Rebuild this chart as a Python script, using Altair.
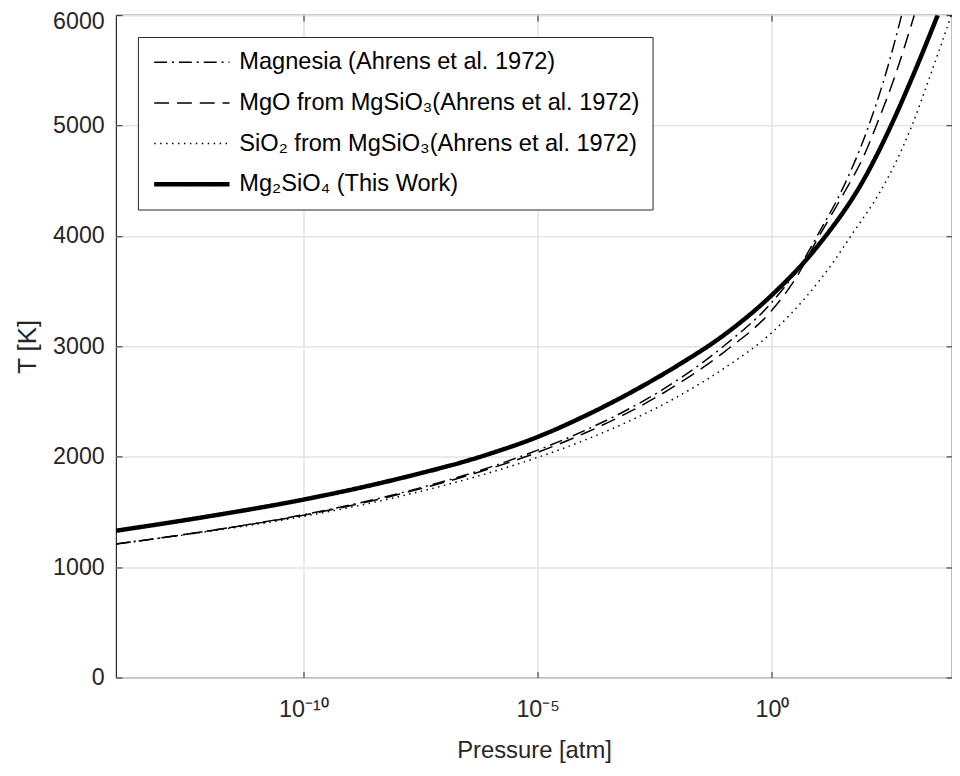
import altair as alt
import pandas as pd

# ---- data (log10 pressure [atm], temperature [K]) ----
series_names = [
    "Magnesia (Ahrens et al. 1972)",
    "MgO from MgSiO₃(Ahrens et al. 1972)",
    "SiO₂ from MgSiO₃(Ahrens et al. 1972)",
    "Mg₂SiO₄ (This Work)",
]

magnesia_logp = [-14, -12, -10, -8, -6, -5, -4, -3, -2, -1, 0, 0.62, 1, 1.5, 2, 2.5, 2.77]
magnesia_t = [1210, 1330, 1475, 1664, 1908, 2060, 2237, 2445, 2699, 3012, 3400, 3743, 4025, 4420, 4920, 5570, 6000]

mgo_logp = [-14, -12, -10, -8, -6, -5, -4, -3, -2, -1, 0, 0.5, 1.01, 1.5, 2.0, 2.23, 2.64, 3.04]
mgo_t = [1210, 1330, 1470, 1655, 1895, 2040, 2213, 2415, 2660, 2955, 3327, 3610, 4000, 4360, 4760, 5000, 5464, 6000]

sio2_logp = [-14, -12, -10, -8, -6, -5, -4, -3, -2, -1, 0, 0.72, 1.29, 1.71, 2.31, 2.66, 2.99, 3.37, 3.83]
sio2_t = [1210, 1325, 1460, 1635, 1859, 1994, 2150, 2332, 2547, 2807, 3125, 3443, 3750, 4015, 4400, 4680, 5000, 5440, 6000]

mg2sio4_logp = [-14, -12, -10, -8, -6, -5, -4, -3, -2, -1, 0, 1, 2, 2.5, 3, 3.54]
mg2sio4_t = [1330, 1462, 1612, 1798, 2030, 2180, 2368, 2585, 2830, 3110, 3465, 3920, 4540, 4960, 5440, 6000]

x_tick_values = [1e-10, 1e-5, 1]
x_tick_labels = ["10⁻¹⁰", "10⁻⁵", "10⁰"]
y_tick_values = [0, 1000, 2000, 3000, 4000, 5000, 6000]

line_dashes = [[13, 5, 2, 5], [15, 8], [1.5, 4.5], [1, 0]]
line_widths = [1.5, 1.5, 1.5, 4.5]

series_data = [
    (series_names[0], magnesia_logp, magnesia_t),
    (series_names[1], mgo_logp, mgo_t),
    (series_names[2], sio2_logp, sio2_t),
    (series_names[3], mg2sio4_logp, mg2sio4_t),
]
rows = []
for k, (name, lps, ts) in enumerate(series_data):
    for i, (lp, t) in enumerate(zip(lps, ts)):
        rows.append({"series": name, "P": 10.0 ** lp, "T": t, "order": i, "lw": line_widths[k]})
df = pd.DataFrame(rows)

FONT = "Liberation Sans"
AX = "#262626"

label_expr = " : ".join(
    [f"datum.value < {v * 3.1} ? '{lab}'" for v, lab in zip(x_tick_values[:-1], x_tick_labels[:-1])]
    + [f"'{x_tick_labels[-1]}'"]
)

xscale = alt.Scale(type="log", domain=[1e-14, 7000], nice=False)
yscale = alt.Scale(domain=[0, 6000], nice=False)

width_signal = " : ".join(
    [f"datum.index == {i} ? {w}" for i, w in enumerate(line_widths[:-1])] + [str(line_widths[-1])]
)

lines = alt.Chart(df).mark_line(color="black", clip=True, interpolate="monotone").encode(
    x=alt.X("P:Q", scale=xscale, axis=alt.Axis(
        values=x_tick_values, labelExpr=label_expr, title="Pressure [atm]",
        grid=True, gridColor="#e3e3e3", gridWidth=1.5, ticks=False, tickSize=0, domain=False,
        labelFont=FONT, labelFontSize=23.5, labelColor=AX, labelPadding=20,
        titleFont=FONT, titleFontSize=24, titleFontWeight="normal", titleColor=AX, titlePadding=18,
        labelFlush=False)),
    y=alt.Y("T:Q", scale=yscale, axis=alt.Axis(
        values=y_tick_values, format="d", title="T [K]", grid=True, gridColor="#e3e3e3", gridWidth=1.5,
        ticks=False, tickSize=0, domain=False,
        labelOffset=alt.ExprRef(expr=f"datum.value == {y_tick_values[-1]} ? 6 : 0"),
        labelFont=FONT, labelFontSize=23.4, labelColor=AX, labelPadding=12,
        titleFont=FONT, titleFontSize=26, titleFontWeight="normal", titleColor=AX, titlePadding=12)),
    order="order:Q",
    strokeWidth=alt.StrokeWidth("lw:Q", scale=None, legend=None),
    strokeDash=alt.StrokeDash("series:N", sort=series_names, scale=alt.Scale(
        domain=series_names, range=line_dashes),
        legend=alt.Legend(
            title=None, orient="none", legendX=22, legendY=22,
            symbolType="stroke", symbolSize=5776, symbolStrokeColor="black",
            symbolStrokeWidth=alt.ExprRef(expr=width_signal),
            clipHeight=27, rowPadding=14, padding=12, symbolOffset=30.5,
            labelFont=FONT, labelFontSize=23.8, labelColor="black", labelOffset=36, labelLimit=0,
            fillColor="white", strokeColor=AX,
        )),
)

def tick_axis(orient, values):
    return alt.Axis(orient=orient, values=values, labels=False, ticks=True, tickSize=6,
                    tickColor=AX, tickWidth=1, offset=-6, domain=False, grid=False, title=None)

ticks_a = alt.Chart(df).mark_point(opacity=0).encode(
    x=alt.X("P:Q", scale=xscale, axis=tick_axis("bottom", x_tick_values)),
    y=alt.Y("T:Q", scale=yscale, axis=tick_axis("left", y_tick_values)),
)
ticks_b = alt.Chart(df).mark_point(opacity=0).encode(
    x=alt.X("P:Q", scale=xscale, axis=tick_axis("top", x_tick_values)),
    y=alt.Y("T:Q", scale=yscale, axis=tick_axis("right", y_tick_values)),
)

chart = alt.layer(lines, ticks_a, ticks_b).resolve_axis(
    x="independent", y="independent"
).properties(
    width=843, height=668,
    padding={"left": 109, "top": 4, "right": 0, "bottom": 88},
    autosize=alt.AutoSizeParams(type="none"),
).configure_view(stroke=AX, strokeWidth=1.2)

chart.save("out.html", embed_options={"renderer": "svg", "actions": False})
